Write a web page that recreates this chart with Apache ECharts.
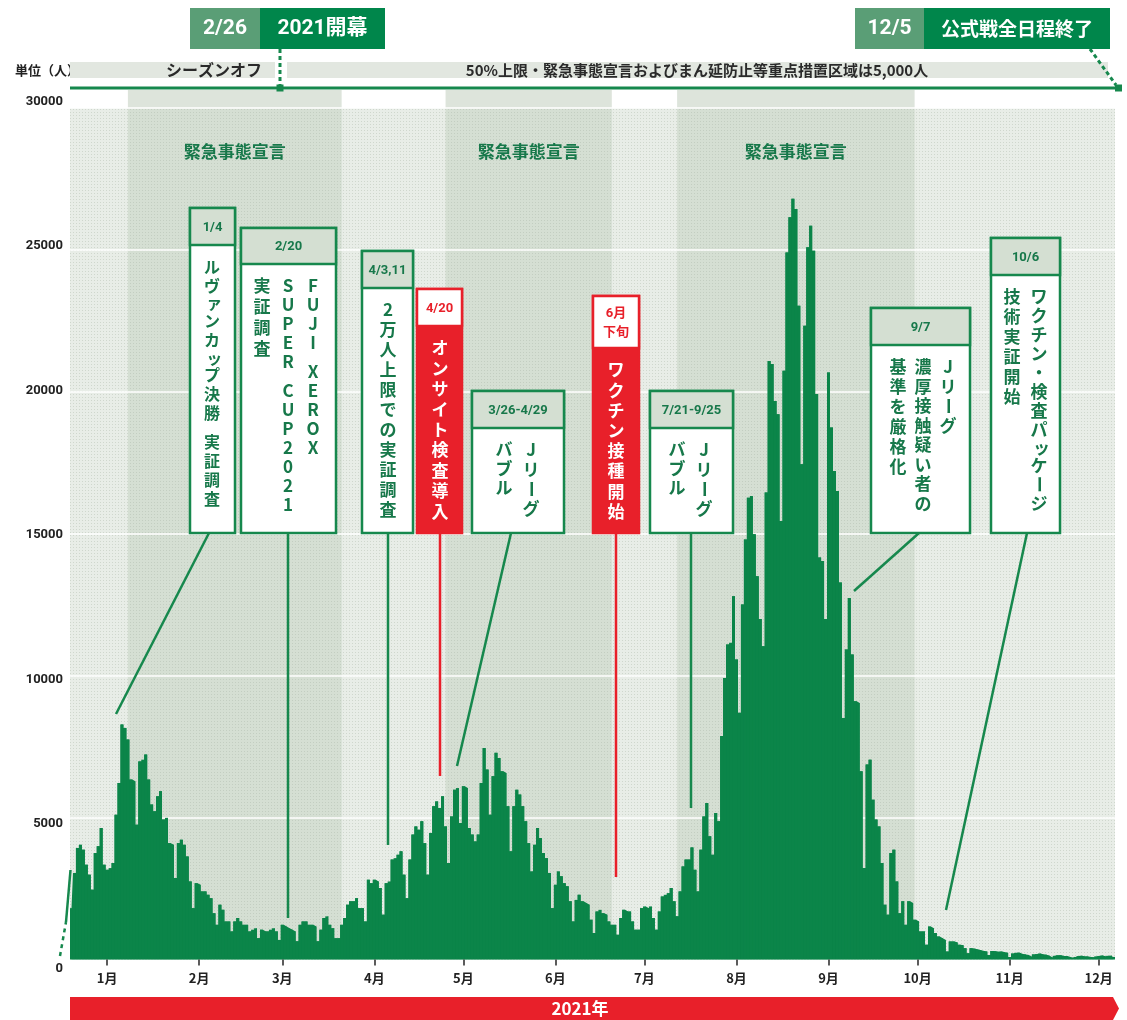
<!DOCTYPE html>
<html><head><meta charset="utf-8">
<script src="https://cdn.jsdelivr.net/npm/echarts@6/dist/echarts.min.js"></script>
<style>html,body{margin:0;padding:0;background:#fff}#c{width:1127px;height:1020px}</style>
</head><body><div id="c"></div>
<script>
// ---------------- DATA ----------------
const startDate = '2020-12-20';
const casesDec2020 = [1810,3050,3930,4040,3870,3340,2990,2460,3750,3990,4630,3340];
const casesJan = [3160,3220,3400,5100,6220,8280,8160,7750,6340,6280,4750,6980,7040,7220,6340,5460,5220,5750,5930,4930,4990,4100,4040,2870,4100,4220,4040,3630,2750,1810,2690];
const casesFeb = [2630,2400,2400,2280,2160,1630,1220,1930,1750,1340,1340,990,1340,1460,1340,1220,1220,990,1050,1100,750,1050,990,990,1050,1100,990,690];
const casesMar = [1220,1160,1100,1050,990,640,1220,1340,1340,1220,1220,1160,640,1050,1460,1520,1220,1100,750,750,1220,1460,1930,2050,2050,2160,1810,1810,1340,2810,2690];
const casesApr = [2810,2750,2520,1580,2690,2750,3520,3570,3690,3810,2990,2160,3520,4400,4690,4570,4870,4100,2990,4460,5400,5570,5340,5750,4690,3400,5040,5980,6040,4810];
const casesMay = [6100,6040,4630,4400,4160,4400,6220,7450,6690,5100,6460,7280,7100,6630,6570,5400,3810,5400,5980,5810,5400,4870,4100,3100,4040,4630,4280,3750,3570,3050,1810];
const casesJun = [2630,3100,2930,2690,2580,2050,1340,2100,2280,2050,1990,1930,1400,930,1690,1750,1630,1580,1340,1220,1220,870,1460,1750,1690,1690,1340,1050,1050,1810];
const casesJul = [1870,1810,1870,1460,1050,1690,2220,2280,2340,2520,2050,1520,2400,3280,3520,3520,3950,3160,2400,3870,5040,5510,4340,3690,5160,4870,7870,9920,11100,11160,12800];
const casesAug = [10570,8690,12510,14800,16270,16330,14980,13500,12000,11040,16450,21090,20980,19680,19210,15450,20740,24910,26150,26800,26440,23030,17450,22330,25090,25850,24970,19920,14160,14040,12000];
const casesSep = [20680,18740,17210,16510,13280,8510,10920,12740,10750,9100,9040,6630,3220,6870,7040,5630,4930,4690,3400,1930,1580,3750,3870,2750,1630,2050,1220,2050,1990,1400];
const casesOct = [1340,990,990,520,1160,1100,930,810,750,690,280,635,635,600,520,500,400,220,400,380,350,330,300,280,160,300,290,270,280,255,235];
const casesNov = [85,210,235,240,195,180,160,100,180,190,210,180,170,135,70,130,150,150,120,120,90,60,90,120,130,110,110,90,75,110];
const casesDec2021 = [125,140,110,130,130,90];
const emergencyPeriods = [['2021-01-08','2021-03-21'],['2021-04-25','2021-06-20'],['2021-07-12','2021-09-30']];
const emergencyLabel = '緊急事態宣言';
const yMax = 30000, yStep = 5000;

const values = [].concat(casesDec2020,casesJan,casesFeb,casesMar,casesApr,casesMay,casesJun,casesJul,casesAug,casesSep,casesOct,casesNov,casesDec2021);
const categories = [];
(function(){
  const d0 = new Date(startDate + 'T00:00:00Z');
  for (let i = 0; i < values.length; i++) {
    const d = new Date(d0.getTime() + i * 86400000);
    categories.push(d.toISOString().slice(0,10));
  }
})();

// ---------------- STYLE ----------------
const GREEN = '#0b8549', LG = '#16884d', TG = '#17784a', RED = '#e8202a';
const HEADER_BG = '#d4dfd2', GRAY = '#e2e7e0';
const JP = '"Noto Sans CJK JP", "Noto Sans", sans-serif';
const NUM = 'Roboto, "Noto Sans CJK JP", sans-serif';
const GRID = {left:70, top:108, width:1045, height:851.5};

function pattern(bg, dot) {
  const c = document.createElement('canvas'); c.width = 3; c.height = 3;
  const ctx = c.getContext('2d'); ctx.fillStyle = bg; ctx.fillRect(0,0,3,3);
  ctx.fillStyle = dot; ctx.fillRect(1,1,1,1);
  return {image: c, repeat: 'repeat'};
}

// y label vertical nudges (reference labels are spread slightly wider than the gridlines)
const yRich = {};
for (let v = 0; v <= yMax; v += yStep) {
  const off = 9 - v / yMax * 15.6;
  yRich['o' + v] = {fontFamily: NUM, fontWeight: 'bold', fontSize: 13, color: '#222',
    padding: off > 0 ? [2*off,0,0,0] : [0,0,-2*off,0]};
}

const chart = echarts.init(document.getElementById('c'), null, {width:1127, height:1020});

const option = {
  animation: false,
  grid: Object.assign({show: true, borderWidth: 0, backgroundColor: pattern('#e8ede7', '#cfd7cd'), z: 0}, GRID),
  xAxis: {
    type: 'category', data: categories, boundaryGap: true, z: 4,
    axisLine: {show: false},
    axisTick: {show: true, alignWithLabel: true, length: 6, interval: (i, v) => v.slice(8) === '01',
      lineStyle: {color: '#333', width: 1.6}},
    axisLabel: {interval: (i, v) => v.slice(8) === '01', formatter: v => parseInt(v.slice(5,7),10) + '月',
      fontFamily: JP, fontWeight: 'bold', fontSize: 13, color: '#222', margin: 12},
    splitLine: {show: false}
  },
  yAxis: {
    type: 'value', min: 0, max: yMax, interval: yStep, z: 2,
    axisLine: {show: false}, axisTick: {show: false},
    axisLabel: {margin: 7, formatter: v => '{o' + v + '|' + v + '}', rich: yRich},
    splitLine: {show: true, lineStyle: {color: '#ffffff', width: 1.5}}
  },
  series: [
    {
      type: 'line', data: [], z: 1, silent: true,
      markArea: {
        silent: true,
        itemStyle: {color: pattern('#d5dfd3', '#c3cec1')},
        label: {show: true, position: 'insideTop', distance: 35, color: TG, fontFamily: JP, fontWeight: 'bold', fontSize: 17},
        data: emergencyPeriods.map(p => [{xAxis: p[0], yAxis: 0, name: emergencyLabel}, {xAxis: p[1], yAxis: yMax}])
      }
    },
    {
      // stepped fill under the bars closes anti-aliasing seams between adjacent daily bars
      type: 'line', data: values, z: 3, silent: true, step: 'middle', symbol: 'none',
      lineStyle: {width: 0, color: GREEN}, areaStyle: {color: GREEN, opacity: 1}
    },
    {
      type: 'bar', data: values, z: 3, barCategoryGap: '0%', barGap: '0%', silent: true,
      itemStyle: {color: GREEN}
    }
  ]
};
chart.setOption(option);

// ---------------- ANNOTATIONS ----------------
const g = [];
function txt(x, y, s, font, fill, align, z, extra) {
  const el = {type: 'text', x: x, y: y, z: z || 12, silent: true,
    style: Object.assign({text: s, font: font, fill: fill, textAlign: align || 'center', textVerticalAlign: 'middle', verticalAlign: 'middle'}, extra || {})};
  g.push(el); return el;
}
function rect(x, y, w, h, style, z) { g.push({type: 'rect', z: z || 10, silent: true, shape: {x: x, y: y, width: w, height: h}, style: style}); }
function line(x1, y1, x2, y2, style, z) { g.push({type: 'line', z: z || 9, silent: true, shape: {x1: x1, y1: y1, x2: x2, y2: y2}, style: style}); }

const SMALL = 'ァィゥェォッャュョ';
function vcol(x, y0, s, color, step, size) {
  let y = y0;
  for (const ch of s) {
    if (ch === ' ') { y += step * 0.5; continue; }
    const sm = SMALL.indexOf(ch) >= 0;
    const el = txt(x + (sm ? size * 0.14 : 0), y - (sm ? size * 0.1 : 0), ch, 'bold ' + size + 'px ' + JP, color, 'center', 13);
    if (ch === 'ー') el.rotation = -Math.PI / 2;
    y += sm ? step * 0.85 : step;
  }
}

// top band extensions above 30000
emergencyPeriods.forEach(p => {
  const x0 = chart.convertToPixel({xAxisIndex: 0}, p[0]);
  const x1 = chart.convertToPixel({xAxisIndex: 0}, p[1]);
  rect(x0, 90, x1 - x0, GRID.top - 90, {fill: '#dde4db'}, 1);
});

// header strip
txt(15, 70, '単位（人）', 'bold 13px ' + JP, '#222', 'left', 5);
rect(70, 62, 205, 16, {fill: GRAY}, 6);
rect(287, 62, 821, 16, {fill: GRAY}, 6);
txt(214, 70, 'シーズンオフ', 'bold 16px ' + JP, '#2a2a2a', 'center', 7);
txt(697, 70, '50%上限・緊急事態宣言およびまん延防止等重点措置区域は5,000人', 'bold 15px ' + JP, '#2a2a2a', 'center', 7);
line(70, 88, 1121, 88, {stroke: LG, lineWidth: 3}, 8);
rect(276.5, 84.5, 7, 7, {fill: LG}, 8);
rect(1115, 84.5, 7, 7, {fill: LG}, 8);
line(280, 49, 280, 85, {stroke: LG, lineWidth: 3, lineDash: [4, 3]}, 8);
line(1090, 49, 1116, 85, {stroke: LG, lineWidth: 3, lineDash: [4, 3]}, 8);
rect(190, 8, 70, 41, {fill: '#5a9e76'}, 8);
rect(260, 8, 125, 41, {fill: '#00864b'}, 8);
txt(225, 29, '2/26', 'bold 21px ' + NUM, '#fff', 'center', 9);
txt(322.5, 29, '2021開幕', 'bold 21px ' + NUM, '#fff', 'center', 9);
rect(855, 8, 69, 41, {fill: '#5a9e76'}, 8);
rect(924, 8, 186, 41, {fill: '#00864b'}, 8);
txt(889.5, 29, '12/5', 'bold 21px ' + NUM, '#fff', 'center', 9);
txt(1017, 29, '公式戦全日程終了', 'bold 19px ' + JP, '#fff', 'center', 9);

// left continuation stub
line(60, 956, 66, 922, {stroke: LG, lineWidth: 2.5, lineDash: [4, 4]}, 8);
line(66, 922, 70.5, 870, {stroke: LG, lineWidth: 2.5}, 8);

// bottom year bar
g.push({type: 'polygon', z: 8, silent: true, shape: {points: [[70,997],[1113,997],[1119,1008.5],[1113,1020],[70,1020]]}, style: {fill: RED}});
txt(580, 1009, '2021年', 'bold 17px ' + JP, '#fff', 'center', 9);

// callout boxes
const boxes = [
  {x:190, y:208, w:45, h:325, hh:37, date:'1/4', lx:[209,533,116,714], cols:[{x:212, t:'ルヴァンカップ決勝 実証調査', step:19, size:16}]},
  {x:241, y:228, w:95, h:305, hh:36, date:'2/20', lx:[288,533,288,918], cols:[{x:313, t:'FUJI XEROX', step:19, size:17},{x:288, t:'SUPER CUP2021', step:19, size:17},{x:262, t:'実証調査', step:21, size:17}]},
  {x:362, y:251, w:51, h:282, hh:37, date:'4/3,11', lx:[388,533,388,845], cols:[{x:388, t:'2万人上限での実証調査', step:20, size:17}]},
  {x:417, y:289, w:45, h:244, hh:37, date:'4/20', red:true, lx:[440,533,440,776], cols:[{x:440, t:'オンサイト検査導入', step:20.4, size:17}]},
  {x:472, y:391, w:92, h:142, hh:37, date:'3/26-4/29', lx:[511,533,457,766], cols:[{x:531, t:'Jリーグ', step:19.5, size:17},{x:504, t:'バブル', step:19, size:17}]},
  {x:593, y:296, w:46, h:237, hh:52, date:'6月\n下旬', red:true, lx:[616,533,616,877], cols:[{x:616, t:'ワクチン接種開始', step:20.2, size:17}]},
  {x:650, y:391, w:83, h:142, hh:37, date:'7/21-9/25', lx:[691,533,691,808], cols:[{x:704, t:'Jリーグ', step:19.5, size:17},{x:677, t:'バブル', step:19, size:17}]},
  {x:871, y:308, w:99, h:225, hh:37, date:'9/7', lx:[919,533,854,591], cols:[{x:948, t:'Jリーグ', step:19.5, size:17},{x:923, t:'濃厚接触疑い者の', step:19.5, size:17},{x:898, t:'基準を厳格化', step:20, size:17}]},
  {x:991, y:238, w:69, h:295, hh:37, date:'10/6', lx:[1027,533,946,910], cols:[{x:1039, t:'ワクチン・検査パッケージ', step:19, size:17},{x:1012, t:'技術実証開始', step:20, size:17}]}
];
boxes.forEach(b => {
  const bc = b.red ? RED : LG;
  line(b.lx[0], b.lx[1], b.lx[2], b.lx[3], {stroke: bc, lineWidth: 2.5}, 9);
  rect(b.x, b.y, b.w, b.h, {fill: b.red ? RED : '#fff', stroke: bc, lineWidth: 2.5}, 10);
  rect(b.x, b.y, b.w, b.hh, {fill: b.red ? '#fff' : HEADER_BG, stroke: bc, lineWidth: 2.5}, 11);
  txt(b.x + b.w / 2, b.y + b.hh / 2 + 1, b.date, 'bold 13px ' + NUM, b.red ? RED : TG, 'center', 12, {lineHeight: 19});
  b.cols.forEach(c => vcol(c.x, b.y + b.hh + 22, c.t, b.red ? '#fff' : TG, c.step, c.size));
});

chart.setOption({graphic: {elements: g}});
</script>
</body></html>
